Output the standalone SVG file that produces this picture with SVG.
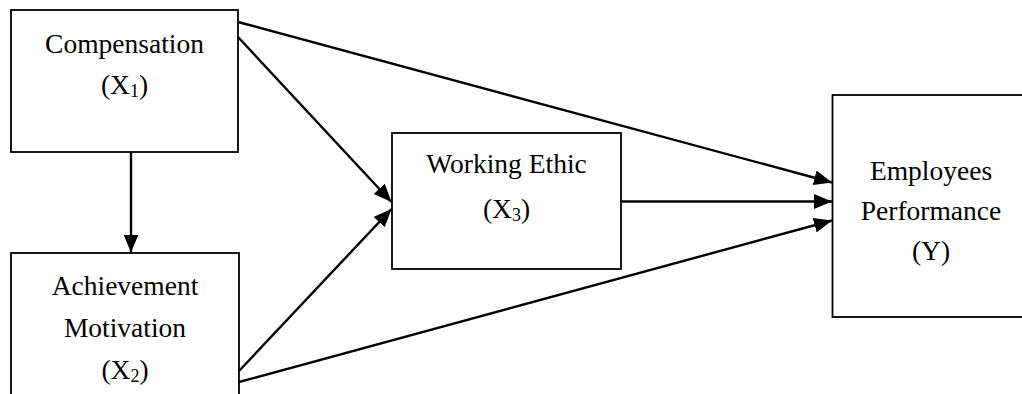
<svg xmlns="http://www.w3.org/2000/svg" width="1022" height="394" viewBox="0 0 1022 394">
<style>
.box{fill:#fff;stroke:#000;stroke-width:1.8}
.t{font-family:"Liberation Serif","Times New Roman",serif;font-size:27.5px;fill:#000;text-anchor:middle}
.sub{font-size:18px}
.c{stroke:#000;stroke-width:2.4;fill:none;marker-end:url(#ah)}
</style>
<defs>
<marker id="ah" markerUnits="userSpaceOnUse" markerWidth="20" markerHeight="16" refX="18" refY="7.5" orient="auto">
<path d="M0,0 L18,7.5 L0,15 Z" fill="#000"/>
</marker>
</defs>
<rect width="1022" height="394" fill="#fff"/>
<g id="n1">
<rect class="box" x="11" y="10" width="227" height="142"/>
<text class="t" x="124.5" y="53">Compensation</text>
<text class="t" x="124.5" y="94">(X<tspan class="sub" dy="3">1</tspan><tspan dy="-3">)</tspan></text>
</g>
<g id="n2">
<rect class="box" x="11" y="253" width="228" height="160"/>
<text class="t" x="125" y="295">Achievement</text>
<text class="t" x="125" y="337">Motivation</text>
<text class="t" x="125" y="379">(X<tspan class="sub" dy="3">2</tspan><tspan dy="-3">)</tspan></text>
</g>
<g id="n3">
<rect class="box" x="392" y="133" width="229" height="136"/>
<text class="t" x="506.5" y="173">Working Ethic</text>
<text class="t" x="506.5" y="218">(X<tspan class="sub" dy="3">3</tspan><tspan dy="-3">)</tspan></text>
</g>
<g id="n4">
<rect class="box" x="832.5" y="95" width="210" height="222"/>
<text class="t" x="931" y="180">Employees</text>
<text class="t" x="931" y="220">Performance</text>
<text class="t" x="931" y="260">(Y)</text>
</g>
<g id="connectors">
<line class="c" x1="238" y1="22" x2="832" y2="182.5"/>
<line class="c" x1="238" y1="37" x2="391.5" y2="202"/>
<line class="c" x1="131" y1="152" x2="131" y2="252.5"/>
<line class="c" x1="239" y1="371" x2="391.5" y2="209"/>
<line class="c" x1="621" y1="201.5" x2="832" y2="201.5"/>
<line class="c" x1="239" y1="382" x2="832" y2="220.5"/>
</g>
</svg>
